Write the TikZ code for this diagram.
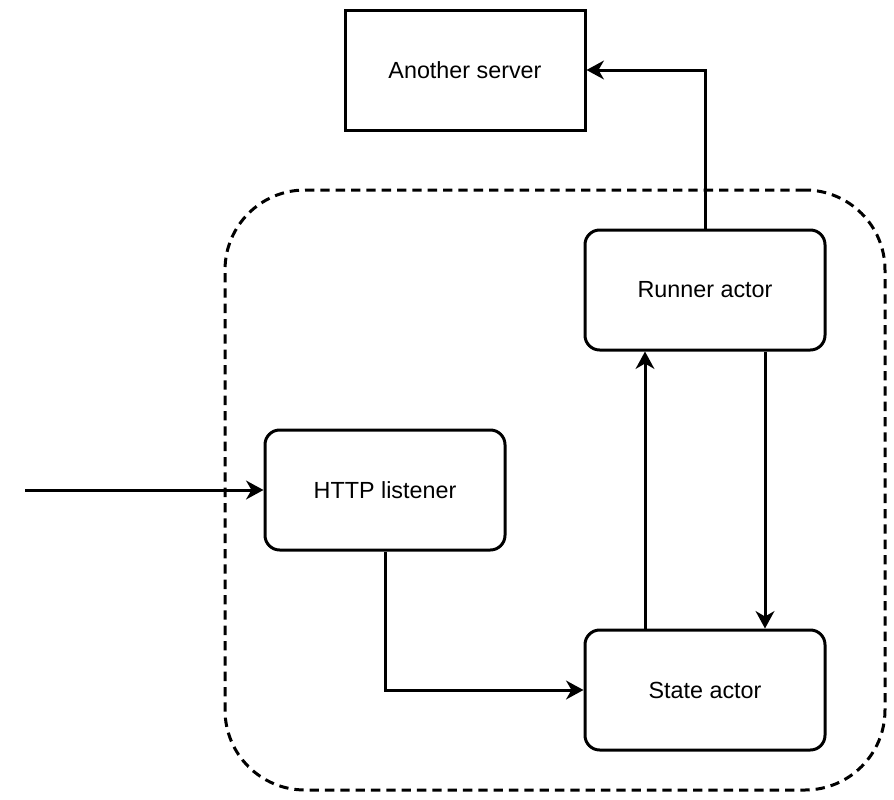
\documentclass[tikz,border=0pt]{standalone}
\usepackage{fontspec}
\setmainfont{Liberation Sans}
\usetikzlibrary{arrows.meta,calc}

\begin{document}
\begin{tikzpicture}[x=0.75pt,y=-0.75pt]
  \tikzset{BoxStyle/.style = {
    shape         = rectangle,
    draw          = black,
    fill          = white,
    line width    = 2.25pt,
    rounded corners = 11pt,
    text          = black,
    minimum width = 180pt,
    minimum height = 90pt,
    font          = \fontsize{17.5}{21}\selectfont
    }
  }
  \tikzset{ServerStyle/.style = {
    BoxStyle,
    rounded corners = 0pt
    }
  }
  \tikzset{GroupStyle/.style = {
    shape         = rectangle,
    draw          = black,
    line width    = 2.25pt,
    dash pattern  = on 7pt off 4.5pt,
    rounded corners = 60pt,
    minimum width = 495pt,
    minimum height = 450pt
    }
  }
  \tikzset{EdgeStyle/.style = {
    draw          = black,
    line width    = 2.25pt,
    -{Stealth[length=13pt, width=14pt, inset=4pt]}
    }
  }

  \useasboundingbox (0,0) rectangle (894,800);

  \node[GroupStyle](group) at (555, 490) {};
  \node[ServerStyle](server) at (465, 70) {Another server};
  \node[BoxStyle](runner) at (705, 290) {Runner actor};
  \node[BoxStyle](http) at (385, 490) {HTTP listener};
  \node[BoxStyle](state) at (705, 690) {State actor};
  \coordinate (in) at (25, 490);

  \draw[EdgeStyle](in) -- (http);
  \draw[EdgeStyle](http.south) |- (state.west);
  \draw[EdgeStyle]($(state.north)+(-60,0)$) -- ($(runner.south)+(-60,0)$);
  \draw[EdgeStyle]($(runner.south)+(60,0)$) -- ($(state.north)+(60,0)$);
  \draw[EdgeStyle](runner.north) |- (server.east);

\end{tikzpicture}
\end{document}
